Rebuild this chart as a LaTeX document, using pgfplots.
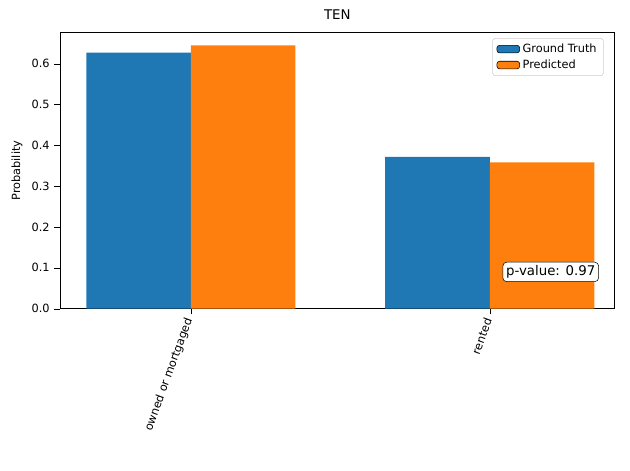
\documentclass[border=0pt]{standalone}
\usepackage{pgfplots}
\pgfplotsset{compat=1.18}
\usepackage{fontspec}
\setmainfont{DejaVu Sans}
\definecolor{mplblue}{HTML}{1F77B4}
\definecolor{mplorange}{HTML}{FF7F0E}
\begin{document}
\begin{tikzpicture}
\path[use as bounding box] (-45pt,-121pt) rectangle (427.5pt,231.5pt);
\begin{axis}[
  scale only axis, width=416pt, height=207pt,
  xmin=-0.438, xmax=1.418, ymin=0, ymax=0.676,
  xtick={0,1}, xticklabels={owned or mortgaged, rented},
  xticklabel style={rotate=70, anchor=east, font=\fontsize{8.5}{10}\selectfont},
  ytick={0,0.1,0.2,0.3,0.4,0.5,0.6},
  yticklabel style={font=\fontsize{8.5}{10}\selectfont, /pgf/number format/fixed, /pgf/number format/fixed zerofill, /pgf/number format/precision=1},
  /pgf/number format/assume math mode=true,
  ylabel={Probability}, ylabel style={font=\fontsize{8.5}{10}\selectfont},
  title={TEN}, title style={font=\fontsize{10}{12}\selectfont},
  xtick pos=bottom, ytick pos=left,
  ybar, bar width=0.35, bar shift auto=false,
  area legend,
  legend style={at={(0.98,0.98)}, anchor=north east, font=\fontsize{8.5}{10}\selectfont, draw=black!20, rounded corners=2pt},
  legend cell align=left,
  tick align=outside, tick style={black},
]
\addplot[fill=mplblue, draw=none, bar shift=-0.175] coordinates {(0,0.627) (1,0.372)};
\addplot[fill=mplorange, draw=none, bar shift=0.175] coordinates {(0,0.645) (1,0.358)};
\legend{Ground Truth, Predicted}
\node[draw, rounded corners=3pt, fill=white, font=\fontsize{10}{12}\selectfont, inner sep=2.5pt] at (axis cs:1.204,0.09) {p-value: 0.97};
\end{axis}
\end{tikzpicture}
\end{document}
